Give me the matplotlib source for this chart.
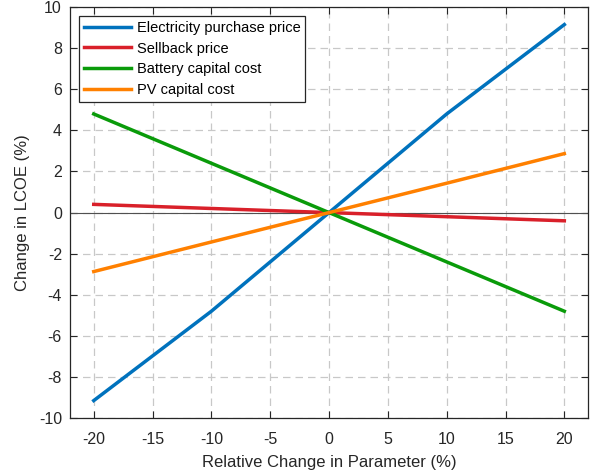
import matplotlib
matplotlib.use('Agg')
import matplotlib.pyplot as plt

plt.rcParams['font.family'] = ['Liberation Sans', 'DejaVu Sans']
plt.rcParams['axes.unicode_minus'] = False

#%% data
rel_change = [-20, -10, 0, 10, 20]
elec_price = [-9.15, -4.8, 0, 4.8, 9.15]
sellback = [0.4, 0.2, 0, -0.2, -0.4]
battery = [4.8, 2.4, 0, -2.4, -4.8]
pv_cost = [-2.87, -1.43, 0, 1.43, 2.87]

labels = ['Electricity purchase price', 'Sellback price',
          'Battery capital cost', 'PV capital cost']
colors = ['#0072BD', '#D9202A', '#0A9B0A', '#FF8000']

#%% plot
fig = plt.figure(figsize=(5.95, 4.74), dpi=100)
ax = fig.add_axes([0.118, 0.118, 0.87, 0.867])

ax.axhline(0, color='#505050', linewidth=0.8, zorder=1)
for vals, lab, c in zip([elec_price, sellback, battery, pv_cost], labels, colors):
    ax.plot(rel_change, vals, color=c, linewidth=2.5, label=lab, zorder=3)

ax.set_xlim(-22, 22)
ax.set_ylim(-10, 10)
ax.set_xticks(range(-20, 21, 5))
ax.set_yticks(range(-10, 11, 2))
ax.grid(True, linestyle=(0, (6, 4)), color='#c8c8c8', linewidth=0.9)
ax.set_axisbelow(True)
ax.tick_params(direction='in', top=True, right=True, labelsize=11.5,
               colors='#262626', length=5)
ax.tick_params(axis='x', pad=10)
ax.tick_params(axis='y', pad=6)
for s in ax.spines.values():
    s.set_color('#262626')
    s.set_linewidth(0.9)

ax.set_xlabel('Relative Change in Parameter (%)', fontsize=12, color='#262626',
              labelpad=6)
ax.set_ylabel('Change in LCOE (%)', fontsize=12, color='#262626', labelpad=6)

leg = ax.legend(loc='upper left', fontsize=10.5, fancybox=False, framealpha=1,
                edgecolor='#262626', handlelength=3.2, borderaxespad=0.6,
                labelspacing=0.45, handletextpad=0.4, borderpad=0.35)
leg.get_frame().set_linewidth(0.9)

plt.savefig('out.png', dpi=100)
